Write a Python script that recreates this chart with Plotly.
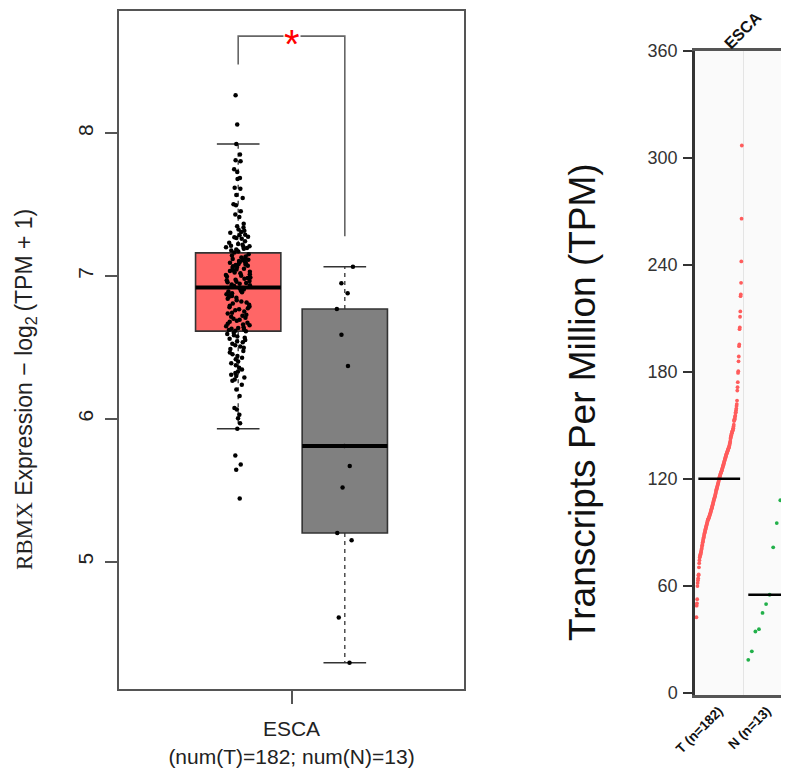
import numpy as np
import plotly.graph_objects as go

# ---------------- data (TPM values) ----------------
gene = "RBMX"
dataset = "ESCA"
group_labels = ["T (n=182)", "N (n=13)"]
box_axis_label = "ESCA<br>(num(T)=182; num(N)=13)"

tumor_tpm = [
    42.5, 49.0, 50.3, 52.6, 60.0, 61.7, 63.2, 64.3, 66.0, 66.5, 70.5, 72.8, 74.5, 76.0,
    76.5, 77.2, 77.8, 78.3, 79.0, 79.6, 80.3, 81.0, 82.0,
    82.8, 83.6, 84.5, 85.1, 85.9, 86.6, 87.3, 88.0, 88.8, 89.4,
    90.0, 90.5, 91.2, 91.8, 92.3, 92.9, 93.4, 93.9, 94.5, 95.0,
    95.6, 96.2, 96.9, 97.2, 97.5, 97.8, 98.1,
    98.5, 98.9, 99.3, 99.8, 100.2, 100.6,
    101.1, 101.6, 102.1, 102.6, 103.1, 103.6, 104.1, 104.6, 105.1, 105.7, 106.2,
    106.8, 107.4, 108.0, 108.5, 109.0, 109.4, 109.9, 110.4, 111.0, 111.6, 112.2, 112.9, 113.7,
    114.2, 114.7, 115.2, 115.7, 116.2, 116.8, 117.3, 117.8, 118.4, 119.0, 119.8, 120.5,
    121.0, 121.4, 121.9, 122.3, 122.8, 123.2, 123.6, 124.0, 124.4, 124.8, 125.3, 125.8, 126.2, 126.7,
    127.2, 127.7, 128.2, 128.7, 129.2, 129.7, 130.2, 130.7, 131.2, 131.7, 132.2, 132.7, 133.2, 133.6, 134.0, 134.4,
    134.8, 135.2, 135.6, 136.0, 136.4, 136.8, 137.2, 137.6, 138.0, 138.5,
    139.1, 139.8, 140.5, 141.3, 142.6, 143.3, 144.0, 144.6, 145.2, 145.7, 146.2, 146.6, 147.0, 147.3,
    148.0, 148.5, 149.5, 150.5, 152.5, 153.0, 153.5, 154.0, 155.0, 155.5, 157.0, 157.5,
    158.5, 159.5, 161.0, 162.0, 164.0, 169.6, 171.5, 174.3, 179.5, 180.5, 186.0, 188.7,
    194.5, 195.5, 204.0, 205.0, 211.0, 214.0, 222.5, 223.5, 230.0, 242.0, 266.0, 307.0,
]
normal_tpm = [18.6, 23.4, 34.5, 35.8, 44.9, 49.9, 55.1, 81.7, 95.3, 108.1, 116.8, 122.6, 132.9]

tpm_ticks = [0, 60, 120, 180, 240, 300, 360]
log_ticks = [5, 6, 7, 8]

# ---------------- derived values ----------------
logT = np.log2(np.array(tumor_tpm) + 1)
logN = np.log2(np.array(normal_tpm) + 1)


def box_stats(v):
    q1, med, q3 = np.percentile(v, [25, 50, 75])
    iqr = q3 - q1
    lo = v[v >= q1 - 1.5 * iqr].min()
    hi = v[v <= q3 + 1.5 * iqr].max()
    return q1, med, q3, lo, hi


# page body has an 8px margin; size the figure so it fits the 789x774 window
OFF = 8
FW, FH = 789 - OFF, 774 - OFF


def px(x):
    return (x - OFF) / FW


def py(y):
    return 1 - (y - OFF) / FH


LINE = "#555555"
fig = go.Figure()

box_w = 0.8
cap_w = 0.4
positions = [1, 2]
fills = ["#FF6666", "#808080"]
groups = [logT, logN]

# boxes, medians, whiskers (base axes)
for pos, vals, col in zip(positions, groups, fills):
    q1, med, q3, lo, hi = box_stats(vals)
    fig.add_trace(go.Box(
        x=[pos], q1=[q1], median=[med], q3=[q3], lowerfence=[q1], upperfence=[q3],
        width=box_w, fillcolor=col, line=dict(color="#333333", width=1.6),
        whiskerwidth=0, boxpoints=False, hoverinfo="skip", showlegend=False,
        xaxis="x", yaxis="y"))
    fig.add_trace(go.Scatter(
        x=[pos, pos, None, pos, pos], y=[q3, hi, None, q1, lo], mode="lines",
        line=dict(color="#333333", width=1.3, dash="4px,4px"),
        hoverinfo="skip", showlegend=False, xaxis="x", yaxis="y"))
    fig.add_trace(go.Scatter(
        x=[pos - cap_w / 2, pos + cap_w / 2, None, pos - cap_w / 2, pos + cap_w / 2],
        y=[hi, hi, None, lo, lo], mode="lines",
        line=dict(color="#333333", width=1.5),
        hoverinfo="skip", showlegend=False, xaxis="x", yaxis="y"))
    fig.add_trace(go.Scatter(
        x=[pos - box_w / 2, pos + box_w / 2], y=[med, med], mode="lines",
        line=dict(color="black", width=4),
        hoverinfo="skip", showlegend=False, xaxis="x", yaxis="y"))

# significance bracket
all_vals = np.concatenate([logT, logN])
span = all_vals.max() - all_vals.min()
leg_T = logT.max() + 0.054 * span
leg_N = logN.max() + 0.054 * span
top = all_vals.max() + 0.104 * span
fig.add_trace(go.Scatter(
    x=[positions[0], positions[0], positions[1], positions[1]],
    y=[leg_T, top, top, leg_N], mode="lines",
    line=dict(color="#666666", width=1.6),
    hoverinfo="skip", showlegend=False, xaxis="x", yaxis="y"))
fig.add_annotation(x=np.mean(positions), y=top, xref="x", yref="y", text="*",
                   showarrow=False, font=dict(color="#FF0000", size=40, family="Liberation Sans"),
                   bgcolor="white", borderpad=0, yshift=-8, xanchor="center", yanchor="middle")

# jittered points (overlay axes so they sit on top)
for pos, vals in zip(positions, groups):
    fig.add_trace(go.Box(
        x=[pos] * len(vals), y=vals, width=box_w, boxpoints="all", jitter=0.3, pointpos=0,
        fillcolor="rgba(0,0,0,0)", line=dict(width=0, color="rgba(0,0,0,0)"),
        marker=dict(color="black", size=4.5), hoverinfo="skip", showlegend=False,
        xaxis="x3", yaxis="y3"))

# ---------------- right panel: sorted dot plot ----------------
t_sorted = np.sort(np.array(tumor_tpm))
n_sorted = np.sort(np.array(normal_tpm))
xT = np.linspace(0.03, 0.975, len(t_sorted))
xN = 1 + np.linspace(0.11, 1.0, len(n_sorted))
fig.add_trace(go.Scatter(x=xT, y=t_sorted, mode="markers",
                         marker=dict(color="#FF5C5C", size=3.8), hoverinfo="skip",
                         showlegend=False, xaxis="x2", yaxis="y2"))
fig.add_trace(go.Scatter(x=xN, y=n_sorted, mode="markers",
                         marker=dict(color="#22B04A", size=3.8), hoverinfo="skip",
                         showlegend=False, xaxis="x2", yaxis="y2"))
fig.add_trace(go.Scatter(x=[0.07, 0.94], y=[np.median(t_sorted)] * 2, mode="lines",
                         line=dict(color="black", width=2.5), hoverinfo="skip",
                         showlegend=False, xaxis="x2", yaxis="y2"))
fig.add_trace(go.Scatter(x=[1.11, 1.98], y=[np.median(n_sorted)] * 2, mode="lines",
                         line=dict(color="black", width=2.5), hoverinfo="skip",
                         showlegend=False, xaxis="x2", yaxis="y2"))

fig.add_shape(type="rect", xref="x2 domain", yref="y2 domain", x0=0, x1=1, y0=0, y1=1,
              fillcolor="#FAFAFA", line=dict(width=0), layer="below")

# ---------------- axes ----------------
left_dom_x = [px(119), px(464)]
left_dom_y = [py(689), py(11)]
xr = [-0.118, 3.118]
yr = [4.109, 8.856]

fig.update_layout(
    width=FW, height=FH, margin=dict(l=0, r=0, t=0, b=0, autoexpand=False),
    paper_bgcolor="white", plot_bgcolor="white",
    font=dict(family="Liberation Sans", color="#222222"),
    showlegend=False,
    boxmode="overlay",
    xaxis=dict(domain=left_dom_x, range=xr, showline=True, mirror=True, linecolor=LINE,
               linewidth=2, ticks="outside", ticklen=13, tickwidth=1.5, tickcolor=LINE,
               tickmode="array", tickvals=[np.mean(positions)], ticktext=[box_axis_label],
               tickfont=dict(size=21, color="#222222"), ticklabelstandoff=7,
               showgrid=False, zeroline=False, anchor="y", automargin=False),
    yaxis=dict(domain=left_dom_y, range=yr, showline=True, mirror=True, linecolor=LINE,
               linewidth=2, ticks="outside", ticklen=12, tickwidth=1.5, tickcolor=LINE,
               tickmode="array", tickvals=log_ticks, tickangle=-90, ticklabelstandoff=4,
               tickfont=dict(size=21, color="#222222"), showgrid=False, zeroline=False,
               anchor="x", automargin=False),
    xaxis3=dict(domain=left_dom_x, range=xr, overlaying="x", visible=False, anchor="y3",
                automargin=False),
    yaxis3=dict(domain=left_dom_y, range=yr, overlaying="y", visible=False, anchor="x3",
                automargin=False),
    xaxis2=dict(domain=[px(695), 1.0], range=[0, 94 / 48], showline=True, mirror=True,
                linecolor=LINE, linewidth=2.5, ticks="", tickmode="array",
                tickvals=[0.5, 1.5], ticktext=group_labels, tickangle=-45,
                tickfont=dict(size=13.5, color="#111111", weight="bold"),
                showgrid=False, zeroline=False, anchor="y2", automargin=False,
                minor=dict(tickmode="array", tickvals=[1, 2], showgrid=True,
                           gridcolor="#E4E4E4", gridwidth=1, ticks="")),
    yaxis2=dict(domain=[py(695), py(51)], range=[-1.1, 360], showline=True,
                linecolor="#333333", linewidth=2.5, ticks="outside", ticklen=9, tickwidth=1.5,
                tickcolor="#333333", tickmode="array", tickvals=tpm_ticks, ticklabelstandoff=2,
                tickfont=dict(size=18, color="#333333"), showgrid=False, zeroline=False,
                anchor="x2", automargin=False),
)

# axis titles as annotations
fig.add_annotation(
    x=px(26), y=py(390), xref="paper", yref="paper", showarrow=False, textangle=-90,
    xanchor="center", yanchor="middle",
    text="<span style=\"font-family:'Liberation Serif',serif\">" + gene
         + "</span> Expression \u2212 log<sub>2</sub>\u2009(TPM + 1)",
    font=dict(size=23, color="#222222", family="Liberation Sans"))
fig.add_annotation(
    x=px(582), y=py(402), xref="paper", yref="paper", showarrow=False, textangle=-90,
    xanchor="center", yanchor="middle",
    text="Transcripts Per Million (TPM)", font=dict(size=37, color="#111111", family="Liberation Sans"))
fig.add_annotation(
    x=1.0, y=py(31), xref="x2", yref="paper", showarrow=False, textangle=-45,
    xanchor="center", yanchor="middle",
    text=dataset, font=dict(size=16, color="#111111", family="Liberation Sans", weight="bold"))

fig.write_html("out.html")
